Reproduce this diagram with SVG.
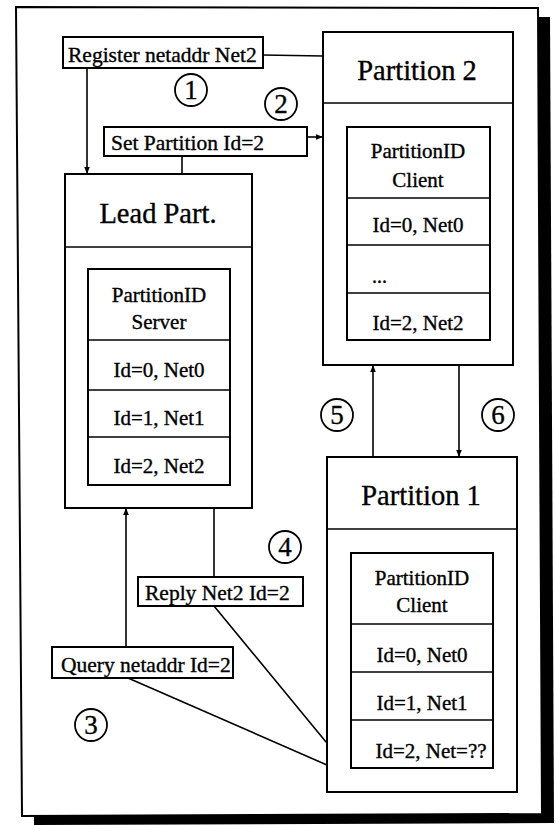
<svg xmlns="http://www.w3.org/2000/svg" width="555" height="825" viewBox="0 0 555 825">
<style>
.box{fill:#fff;stroke:#000;stroke-width:2}
.ln{fill:none;stroke:#000;stroke-width:1.6}
.t{font-family:"Liberation Serif","Times New Roman",serif;fill:#000;stroke:#000;stroke-width:0.35}
.lbl{font-size:21.5px}
.hd{font-size:28.5px;text-anchor:middle}
.tb{font-size:21px;text-anchor:middle}
.num{font-size:27px;text-anchor:middle}
.circ{fill:none;stroke:#000;stroke-width:1.8}
</style>
<defs>
<marker id="ah" viewBox="0 0 10 8" refX="10" refY="4" markerWidth="7" markerHeight="5.6" markerUnits="userSpaceOnUse" orient="auto">
<path d="M0,0 L10,4 L0,8 Z" fill="#000"/>
</marker>
</defs>
<rect width="555" height="825" fill="#fff"/>
<g id="frame">
<polygon points="28,16 550,17 554,823 34,825" fill="#000"/>
<polygon points="16,7 538,8 542,814 22,816" fill="#fff" stroke="#000" stroke-width="2"/>
</g>
<g id="connectors">
<line class="ln" x1="263" y1="55" x2="323" y2="56"/>
<line class="ln" x1="87" y1="68" x2="87" y2="174" marker-end="url(#ah)"/>
<line class="ln" x1="307" y1="137" x2="323" y2="137" marker-end="url(#ah)"/>
<line class="ln" x1="182" y1="156" x2="182" y2="174"/>
<line class="ln" x1="126" y1="647" x2="126" y2="508" marker-end="url(#ah)"/>
<line class="ln" x1="214" y1="508" x2="214" y2="577"/>
<polyline class="ln" points="214,606 326,742 351,742" marker-end="url(#ah)"/>
<line class="ln" x1="128" y1="678" x2="327" y2="765"/>
<line class="ln" x1="373" y1="457" x2="373" y2="365" marker-end="url(#ah)"/>
<line class="ln" x1="459" y1="365" x2="459" y2="457" marker-end="url(#ah)"/>
</g>
<g id="lead">
<rect class="box" x="65" y="174" width="187" height="334"/>
<line class="ln" x1="65" y1="247" x2="252" y2="247" stroke-width="2"/>
<text class="t hd" x="158" y="223">Lead Part.</text>
<rect class="box" x="88" y="269" width="142" height="216"/>
<line class="ln" x1="88" y1="340" x2="230" y2="340"/>
<line class="ln" x1="88" y1="390" x2="230" y2="390"/>
<line class="ln" x1="88" y1="437" x2="230" y2="437"/>
<text class="t tb" x="159" y="302">PartitionID</text>
<text class="t tb" x="159" y="329">Server</text>
<text class="t tb" x="159" y="377">Id=0, Net0</text>
<text class="t tb" x="159" y="425">Id=1, Net1</text>
<text class="t tb" x="159" y="473">Id=2, Net2</text>
</g>
<g id="partition2">
<rect class="box" x="323" y="32" width="190" height="333"/>
<line class="ln" x1="323" y1="103" x2="513" y2="103" stroke-width="2"/>
<text class="t hd" x="417" y="80">Partition 2</text>
<rect class="box" x="347" y="127" width="143" height="213"/>
<line class="ln" x1="347" y1="198" x2="490" y2="198"/>
<line class="ln" x1="347" y1="245" x2="490" y2="245"/>
<line class="ln" x1="347" y1="293" x2="490" y2="293"/>
<text class="t tb" x="418" y="158">PartitionID</text>
<text class="t tb" x="418" y="187">Client</text>
<text class="t tb" x="418" y="232">Id=0, Net0</text>
<text class="t" x="372" y="283" font-size="20">...</text>
<text class="t tb" x="418" y="330">Id=2, Net2</text>
</g>
<g id="partition1">
<rect class="box" x="327" y="457" width="190" height="335"/>
<line class="ln" x1="327" y1="529" x2="517" y2="529" stroke-width="2"/>
<text class="t hd" x="421" y="505">Partition 1</text>
<rect class="box" x="351" y="553" width="142" height="215"/>
<line class="ln" x1="351" y1="624" x2="493" y2="624"/>
<line class="ln" x1="351" y1="672" x2="493" y2="672"/>
<line class="ln" x1="351" y1="720" x2="493" y2="720"/>
<text class="t tb" x="422" y="585">PartitionID</text>
<text class="t tb" x="422" y="612">Client</text>
<text class="t tb" x="422" y="662">Id=0, Net0</text>
<text class="t tb" x="422" y="710">Id=1, Net1</text>
<text class="t tb" x="431" y="758">Id=2, Net=??</text>
</g>
<g id="msg-register">
<rect class="box" x="63" y="37" width="200" height="31"/>
<text class="t lbl" x="68" y="62">Register netaddr Net2</text>
</g>
<g id="msg-setid">
<rect class="box" x="104" y="127" width="203" height="29"/>
<text class="t lbl" x="111" y="150">Set Partition Id=2</text>
</g>
<g id="msg-reply">
<rect class="box" x="138" y="577" width="165" height="29"/>
<text class="t lbl" x="145" y="600">Reply Net2 Id=2</text>
</g>
<g id="msg-query">
<rect class="box" x="52" y="647" width="181" height="31"/>
<text class="t lbl" x="61" y="672">Query netaddr Id=2</text>
</g>
<g id="step1"><circle class="circ" cx="191" cy="90" r="16"/><text class="t num" x="191" y="99">1</text></g>
<g id="step2"><circle class="circ" cx="281" cy="104" r="16"/><text class="t num" x="281" y="113">2</text></g>
<g id="step3"><circle class="circ" cx="91" cy="725" r="16"/><text class="t num" x="91" y="734">3</text></g>
<g id="step4"><circle class="circ" cx="285" cy="547" r="16"/><text class="t num" x="285" y="556">4</text></g>
<g id="step5"><circle class="circ" cx="337" cy="415" r="16"/><text class="t num" x="337" y="424">5</text></g>
<g id="step6"><circle class="circ" cx="498" cy="415" r="16"/><text class="t num" x="498" y="424">6</text></g>
</svg>
